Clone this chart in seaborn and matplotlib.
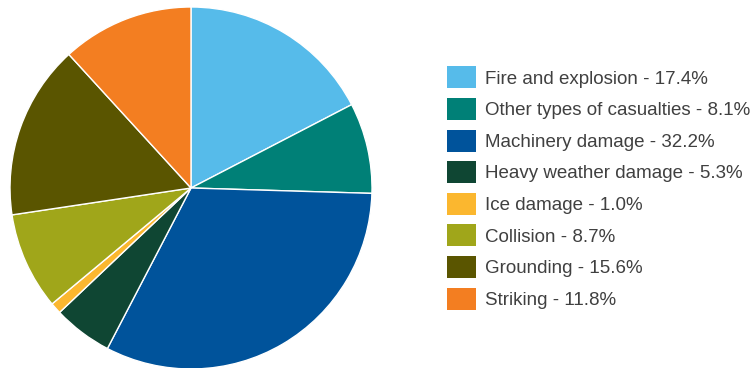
import matplotlib
matplotlib.use("Agg")
import matplotlib.pyplot as plt
import seaborn as sns

categories = [
    "Fire and explosion",
    "Other types of casualties",
    "Machinery damage",
    "Heavy weather damage",
    "Ice damage",
    "Collision",
    "Grounding",
    "Striking",
]
shares = [17.4, 8.1, 32.2, 5.3, 1.0, 8.7, 15.6, 11.8]
colors = ["#56BBEA", "#008077", "#00539B", "#0F4633",
          "#FBB72F", "#A0A61A", "#5A5500", "#F37E21"]

sns.set_style("white")
plt.rcParams["font.family"] = ["Liberation Sans", "DejaVu Sans"]

W, H = 756, 368
fig = plt.figure(figsize=(W / 100, H / 100), dpi=100)

cx, cy, r = 191, 188, 181
ax = fig.add_axes([(cx - r) / W, (H - cy - r) / H, 2 * r / W, 2 * r / H])
wedges, _ = ax.pie(
    shares,
    colors=colors,
    startangle=90,
    counterclock=False,
    wedgeprops=dict(edgecolor="white", linewidth=1.0),
)
ax.set_xlim(-1, 1)
ax.set_ylim(-1, 1)
ax.set_aspect("equal")
ax.axis("off")

labels = [f"{c} - {v:.1f}%" for c, v in zip(categories, shares)]
leg = fig.legend(
    wedges,
    labels,
    loc="center left",
    bbox_to_anchor=(447 / W, 1 - 188 / H),
    frameon=False,
    fontsize=13.5,
    handlelength=1.55,
    handleheight=1.43,
    handletextpad=0.48,
    labelspacing=0.51,
    borderpad=0,
    borderaxespad=0,
)
for t in leg.get_texts():
    t.set_color("#404040")
for h in leg.legend_handles:
    h.set_edgecolor("none")

fig.savefig("out.png", dpi=100, facecolor="white")
